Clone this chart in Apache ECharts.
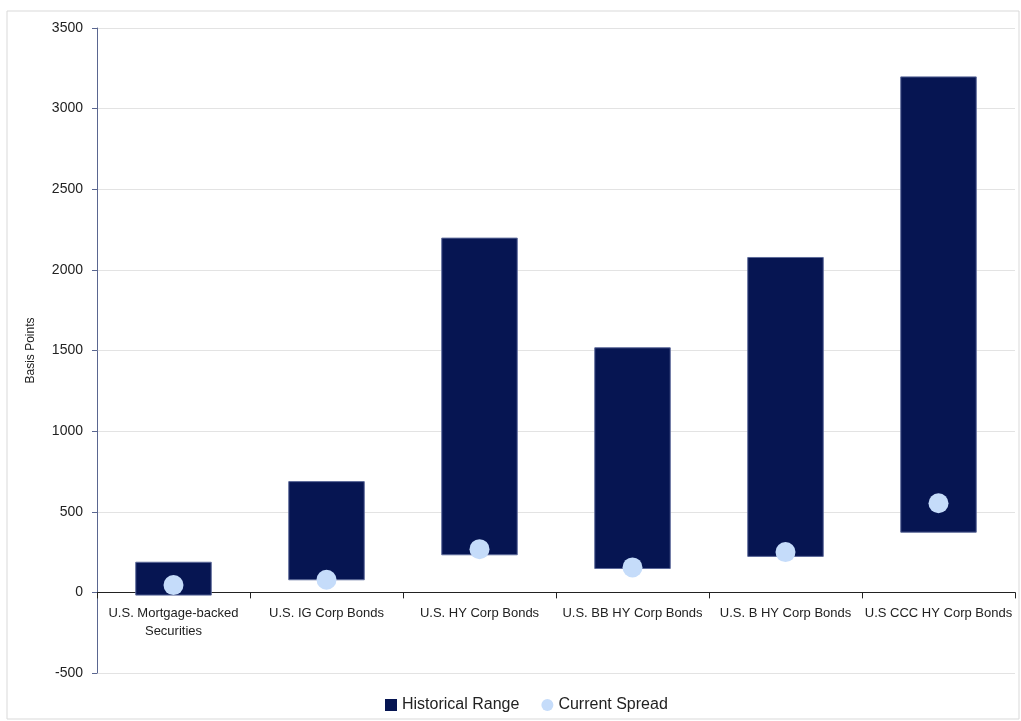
<!DOCTYPE html>
<html>
<head>
<meta charset="utf-8">
<script src="https://cdn.jsdelivr.net/npm/echarts@6/dist/echarts.min.js"></script>
<style>
  html, body { margin: 0; padding: 0; background: #fff; }
  #chart { width: 1021px; height: 721px; }
</style>
</head>
<body>
<div id="chart"></div>
<script>
// 数据
const categories = [
  'U.S. Mortgage-backed\nSecurities',
  'U.S. IG Corp Bonds',
  'U.S. HY Corp Bonds',
  'U.S. BB HY Corp Bonds',
  'U.S. B HY Corp Bonds',
  'U.S CCC HY Corp Bonds'
]
const rangeLow = [-20, 75, 230, 145, 220, 370]
const rangeHigh = [190, 690, 2200, 1520, 2080, 3200]
const currentSpread = [45, 78, 268, 155, 250, 553]

const chart = echarts.init(document.getElementById('chart'))
const font = 'Liberation Sans'

chart.setOption({
  textStyle: { fontFamily: font },
  animation: false,
  graphic: [{
    type: 'rect',
    shape: { x: 7, y: 11, width: 1012, height: 708 },
    style: { fill: 'none', stroke: '#d9d9d9', lineWidth: 1 },
    silent: true
  }],
  grid: { left: 97, right: 6, top: 28, bottom: 48 },
  legend: {
    bottom: 3,
    left: 380,
    itemGap: 22,
    itemWidth: 12,
    itemHeight: 12,
    itemStyle: { borderWidth: 0 },
    textStyle: { fontSize: 16, color: '#222' },
    data: [
      { name: 'Historical Range', icon: 'rect' },
      { name: 'Current Spread', icon: 'circle' }
    ]
  },
  xAxis: {
    type: 'category',
    data: categories,
    axisLine: { onZero: true, lineStyle: { color: '#222', width: 1 } },
    axisTick: { show: true, length: 6, lineStyle: { color: '#222' } },
    // 标签贴着0轴
    axisLabel: { color: '#222', fontSize: 13, margin: -69, lineHeight: 18, interval: 0 }
  },
  yAxis: {
    type: 'value',
    min: -500,
    max: 3500,
    interval: 500,
    name: 'Basis Points',
    nameLocation: 'middle',
    nameGap: 60,
    nameTextStyle: { fontSize: 12, color: '#222' },
    axisLine: { show: true, lineStyle: { color: '#5a6690', width: 1 } },
    axisTick: { show: true, length: 5, lineStyle: { color: '#5a6690' } },
    axisLabel: { color: '#222', fontSize: 14, margin: 14, formatter: v => String(v) },
    splitLine: { lineStyle: { color: '#e3e3e3' } }
  },
  series: [
    {
      name: 'base',
      type: 'bar',
      stack: 'range',
      stackStrategy: 'all',
      barWidth: '50%',
      itemStyle: { color: 'transparent' },
      silent: true,
      data: rangeLow
    },
    {
      name: 'Historical Range',
      type: 'bar',
      stack: 'range',
      stackStrategy: 'all',
      barWidth: '50%',
      itemStyle: { color: '#061552', borderColor: '#5d6a9a', borderWidth: 1 },
      data: rangeHigh.map((h, i) => h - rangeLow[i])
    },
    {
      name: 'Current Spread',
      type: 'scatter',
      symbolSize: 20,
      itemStyle: { color: '#c5dcfa', opacity: 1 },
      z: 5,
      data: currentSpread
    }
  ]
})
</script>
</body>
</html>
